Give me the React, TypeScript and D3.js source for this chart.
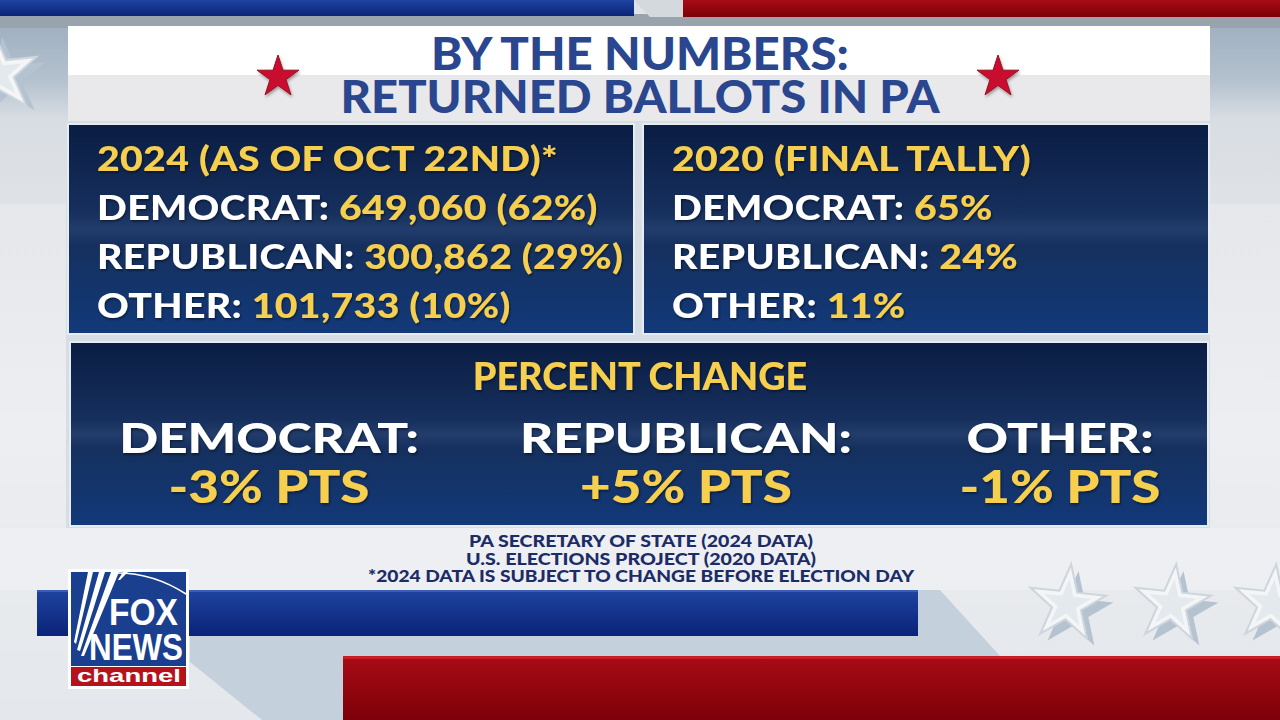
import React from 'react';
import * as d3 from 'd3';

const categories = ['DEMOCRAT', 'REPUBLICAN', 'OTHER'];
const ballots2024 = [649060, 300862, 101733];
const share2024 = [62, 29, 10];
const share2020 = [65, 24, 11];
const pointChange = [-3, 5, -1];
const panelHeaders = ['2024 (AS OF OCT 22ND)*', '2020 (FINAL TALLY)'];
const titleLines = ['BY THE NUMBERS:', 'RETURNED BALLOTS IN PA'];
const sourceLines = [
  'PA SECRETARY OF STATE (2024 DATA)',
  'U.S. ELECTIONS PROJECT (2020 DATA)',
  '*2024 DATA IS SUBJECT TO CHANGE BEFORE ELECTION DAY',
];

const W = 1280;
const H = 720;
const YELLOW = '#f7cf4f';
const NAVY_TEXT = '#29468e';
const FONT = "Lato, 'Open Sans', sans-serif";
const LOGO_FONT = "'Liberation Sans', Arial, sans-serif";

const fmtCount = d3.format(',');
const fmtChange = (v: number) => `${v > 0 ? '+' : '-'}${Math.abs(v)}% PTS`;

function star(r: number) {
  // d3.symbolStar: outer radius = sqrt(size * ka)
  return d3.symbol(d3.symbolStar, (r * r) / 0.8908130915292852)() as string;
}

function EmbossStar({ x, y, r, rot }: { x: number; y: number; r: number; rot: number }) {
  return (
    <g transform={`translate(${x},${y}) rotate(${rot})`}>
      <path d={star(r)} transform="translate(8,6)" fill="#b5c3d1" />
      <path d={star(r)} fill="#f3f5f7" stroke="#cdd5dd" strokeWidth={2} />
      <path d={star(r * 0.62)} fill="#e4e9ee" />
    </g>
  );
}

function App() {
  const rowY = d3.scalePoint<string>().domain(['header', ...categories]).range([171, 318]);
  const colX = d3.scaleOrdinal<string, number>().domain(categories).range([269, 686, 1060]);
  const titleY = d3.scalePoint<string>().domain(titleLines).range([70, 113]);
  const sourceY = d3.scalePoint<string>().domain(sourceLines).range([547, 582]);
  const sourceWidths = [344, 350, 546];

  const panels = [
    {
      x: 68,
      header: panelHeaders[0],
      values: categories.map((c, i) => `${fmtCount(ballots2024[i])} (${share2024[i]}%)`),
    },
    {
      x: 643,
      header: panelHeaders[1],
      values: categories.map((c, i) => `${share2020[i]}%`),
    },
  ];

  const panelText = { fontFamily: FONT, fontWeight: 900, fontSize: 35, letterSpacing: 0.3 } as const;

  return (
    <svg width={W} height={H} style={{ display: 'block', position: 'absolute', left: 0, top: 0 }}>
      <defs>
        <linearGradient id="bg" x1="0" y1="0" x2="0" y2="1">
          <stop offset="0" stopColor="#dfe2e6" />
          <stop offset="0.6" stopColor="#eceef1" />
          <stop offset="1" stopColor="#e4e7eb" />
        </linearGradient>
        <linearGradient id="panel" x1="0" y1="0" x2="0" y2="1">
          <stop offset="0" stopColor="#0a1d43" />
          <stop offset="0.42" stopColor="#162f5d" />
          <stop offset="0.5" stopColor="#223d6b" />
          <stop offset="0.58" stopColor="#15305e" />
          <stop offset="1" stopColor="#12397a" />
        </linearGradient>
        <linearGradient id="blueBar" x1="0" y1="0" x2="0" y2="1">
          <stop offset="0" stopColor="#1f44a0" />
          <stop offset="1" stopColor="#0a2378" />
        </linearGradient>
        <linearGradient id="redBar" x1="0" y1="0" x2="0" y2="1">
          <stop offset="0" stopColor="#a80c15" />
          <stop offset="1" stopColor="#7c0009" />
        </linearGradient>
        <linearGradient id="sideBlue" x1="0" y1="0" x2="0" y2="1">
          <stop offset="0" stopColor="#9cadbf" />
          <stop offset="0.35" stopColor="#b4c1ce" />
          <stop offset="0.55" stopColor="#d8dde3" />
          <stop offset="1" stopColor="#dfe2e6" />
        </linearGradient>
        <filter id="soft" x="-20%" y="-20%" width="140%" height="140%">
          <feDropShadow dx="1" dy="2" stdDeviation="1.5" floodColor="#000" floodOpacity="0.35" />
        </filter>
        <filter id="txt" x="-5%" y="-20%" width="110%" height="140%">
          <feDropShadow dx="1" dy="1.5" stdDeviation="1" floodColor="#000" floodOpacity="0.5" />
        </filter>
      </defs>

      {/* background */}
      <rect width={W} height={H} fill="url(#bg)" />
      <rect x={0} y={14} width={W} height={190} fill="url(#sideBlue)" />
      <rect x={0} y={14} width={W} height={14} fill="#98a3ae" />
      <EmbossStar x={-2} y={74} r={42} rot={-6} />

      {/* top bars */}
      <rect x={0} y={0} width={634} height={16} fill="url(#blueBar)" />
      <polygon points="634,0 683,0 683,17 650,17" fill="#d4d9de" />
      <rect x={683} y={0} width={W - 683} height={17} fill="url(#redBar)" />

      {/* title card */}
      <rect x={68} y={26} width={1142} height={50} fill="#ffffff" />
      <rect x={68} y={75} width={1142} height={46} fill="#e9e9eb" />
      {[278, 998].map((cx) => (
        <path key={cx} d={star(22)} transform={`translate(${cx},77)`} fill="#c8102e" stroke="#9c0a22" strokeWidth={1} filter="url(#soft)" />
      ))}
      {titleLines.map((t, i) => (
        <text
          key={t}
          x={640}
          y={titleY(t)}
          textAnchor="middle"
          fontFamily={FONT}
          fontWeight={900}
          fontSize={45}
          fill={NAVY_TEXT}
          textLength={i === 0 ? 418 : 599}
          lengthAdjust="spacingAndGlyphs"
        >
          {t}
        </text>
      ))}

      {/* two upper panels */}
      <rect x={66} y={122} width={1144} height={406} fill="#d7dde4" />
      {panels.map((p) => (
        <g key={p.header}>
          <rect x={p.x} y={124} width={566} height={210} fill="url(#panel)" stroke="#e7ecf1" strokeWidth={2} />
          <g filter="url(#txt)">
            <text transform={`translate(${p.x + 29},${rowY('header')}) scale(1.12,1)`} {...panelText} fill={YELLOW}>
              {p.header}
            </text>
            {categories.map((c, i) => (
              <text key={c} transform={`translate(${p.x + 29},${rowY(c)}) scale(1.12,1)`} {...panelText}>
                <tspan fill="#ffffff">{c}: </tspan>
                <tspan fill={YELLOW}>{p.values[i]}</tspan>
              </text>
            ))}
          </g>
        </g>
      ))}

      {/* percent change panel */}
      <rect x={70} y={342} width={1138} height={184} fill="url(#panel)" stroke="#e7ecf1" strokeWidth={2} />
      <g filter="url(#txt)">
        <text transform="translate(640,390) scale(1.02,1)" textAnchor="middle" fontFamily={FONT} fontWeight={900} fontSize={37} fill={YELLOW}>
          PERCENT CHANGE
        </text>
        {categories.map((c, i) => (
          <g key={c}>
            <text transform={`translate(${colX(c)},453) scale(1.22,1)`} textAnchor="middle" fontFamily={FONT} fontWeight={900} fontSize={42} fill="#ffffff">
              {c}:
            </text>
            <text transform={`translate(${colX(c)},503) scale(1.15,1)`} textAnchor="middle" fontFamily={FONT} fontWeight={900} fontSize={46} fill={YELLOW}>
              {fmtChange(pointChange[i])}
            </text>
          </g>
        ))}
      </g>

      {/* sources */}
      <rect x={0} y={528} width={W} height={62} fill="#eef0f2" opacity={0.8} />
      {sourceLines.map((s, i) => (
        <text
          key={s}
          x={641}
          y={sourceY(s)}
          textAnchor="middle"
          fontFamily={FONT}
          fontWeight={900}
          fontSize={16}
          fill="#1c2c66"
          textLength={sourceWidths[i]}
          lengthAdjust="spacingAndGlyphs"
        >
          {s}
        </text>
      ))}

      {/* lower decoration */}
      <polygon points="190,636 918,636 918,590 940,590 1000,656 343,656 343,720 262,720 190,662" fill="#c4d0dc" />
      <rect x={37} y={590} width={881} height={46} fill="url(#blueBar)" />
      <rect x={37} y={590} width={881} height={2} fill="#3b5db5" />
      <rect x={343} y={656} width={W - 343} height={64} fill="url(#redBar)" />
      <rect x={343} y={656} width={W - 343} height={3} fill="#c81d24" />
      {[1067, 1172, 1272].map((cx) => (
        <EmbossStar key={cx} x={cx} y={604} r={40} rot={6} />
      ))}

      {/* FOX NEWS channel logo */}
      <rect x={68} y={569} width={121} height={120} fill="#ffffff" />
      <rect x={71} y={572} width={115} height={94} fill="#1a3f8f" />
      <polygon points="74,642 88,572 93,572 76,644" fill="#ffffff" />
      <polygon points="77,650 99,572 105,572 80,651" fill="#ffffff" />
      <polygon points="81,656 111,572 119,572 84,656" fill="#ffffff" />
      <polygon points="118,580 123,572 128,572 120,580" fill="#ffffff" />
      <path d="M114,573 Q152,572 186,594" fill="none" stroke="#ffffff" strokeWidth={1.5} />
      <text x={109} y={625} fontFamily={LOGO_FONT} fontWeight={700} fontSize={36} fill="#ffffff" textLength={69} lengthAdjust="spacingAndGlyphs">
        FOX
      </text>
      <text x={89} y={660} fontFamily={LOGO_FONT} fontWeight={700} fontSize={36} fill="#ffffff" textLength={94} lengthAdjust="spacingAndGlyphs">
        NEWS
      </text>
      <rect x={71} y={667} width={115} height={19} fill="#b5121b" />
      <text x={77} y={682} fontFamily={LOGO_FONT} fontWeight={700} fontSize={19} fill="#ffffff" textLength={104} lengthAdjust="spacingAndGlyphs">
        channel
      </text>
    </svg>
  );
}

export default App;
